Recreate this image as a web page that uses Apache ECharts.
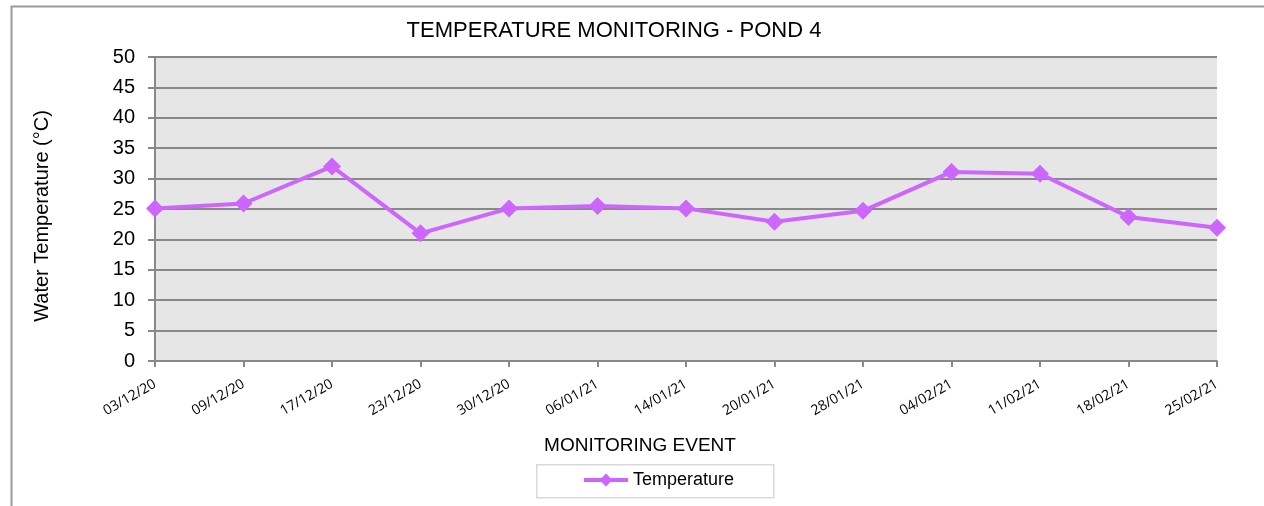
<!DOCTYPE html>
<html>
<head>
<meta charset="utf-8">
<script src="https://cdn.jsdelivr.net/npm/echarts@6/dist/echarts.min.js"></script>
<style>
html,body{margin:0;padding:0;background:#fff;}
#chart{width:1264px;height:506px;}
</style>
</head>
<body>
<div id="chart"></div>
<script>
const categories = ['03/12/20','09/12/20','17/12/20','23/12/20','30/12/20','06/01/21','14/01/21','20/01/21','28/01/21','04/02/21','11/02/21','18/02/21','25/02/21'];
const temperature = [25.1, 25.9, 32.0, 21.0, 25.1, 25.5, 25.1, 22.9, 24.7, 31.1, 30.8, 23.7, 21.9];
const seriesName = 'Temperature';

const sans = '"Liberation Sans", Arial, sans-serif';
const chart = echarts.init(document.getElementById('chart'), null, {renderer: 'canvas'});
chart.setOption({
  animation: false,
  backgroundColor: '#ffffff',
  graphic: [
    {type: 'rect', left: 9, top: 4, shape: {x: 0, y: 0, width: 1400, height: 700}, style: {fill: 'none', stroke: '#999999', lineWidth: 2}, z: -10},
    {type: 'rect', left: 536, top: 464, shape: {x: 0, y: 0, width: 237, height: 33}, style: {fill: '#ffffff', stroke: '#d9d9d9', lineWidth: 1.5}, z: -5}
  ],
  title: {
    text: 'TEMPERATURE MONITORING - POND 4',
    left: 609, top: 15, textAlign: 'center',
    textStyle: {fontFamily: sans, fontSize: 22, fontWeight: 'normal', color: '#000'}
  },
  legend: {
    left: 582, top: 471, padding: 0,
    itemWidth: 44, itemHeight: 16, itemGap: 4,
    textStyle: {fontFamily: sans, fontSize: 18, color: '#000'},
    lineStyle: {width: 4},
    data: [seriesName]
  },
  grid: {
    left: 155, right: 47, top: 57, bottom: 145,
    show: true, backgroundColor: '#e6e6e6', borderWidth: 0
  },
  xAxis: {
    type: 'category', data: categories, boundaryGap: false,
    name: 'MONITORING EVENT', nameLocation: 'middle', nameGap: 75,
    nameTextStyle: {fontFamily: sans, fontSize: 19, color: '#000', padding: [0, 92, 0, 0]},
    axisLine: {lineStyle: {color: '#888888', width: 2}},
    axisTick: {show: true, length: 6, lineStyle: {color: '#888888', width: 2}},
    axisLabel: {rotate: 30, fontFamily: '"Open Sans", sans-serif', fontSize: 14, color: '#000', margin: 22},
    splitLine: {show: false}
  },
  yAxis: {
    type: 'value', min: 0, max: 50, interval: 5,
    name: 'Water Temperature (°C)', nameLocation: 'middle', nameGap: 103, nameRotate: 90,
    nameTextStyle: {fontFamily: sans, fontSize: 20, color: '#000', padding: [0, 14, 0, 0]},
    axisLine: {show: true, lineStyle: {color: '#888888', width: 2}},
    axisTick: {show: true, length: 7, lineStyle: {color: '#888888', width: 2}},
    axisLabel: {fontFamily: sans, fontSize: 20, color: '#000', margin: 20},
    splitLine: {show: true, lineStyle: {color: '#888888', width: 2}}
  },
  series: [{
    name: seriesName, type: 'line', data: temperature,
    symbol: 'diamond', symbolSize: 18,
    lineStyle: {color: '#cc66ff', width: 4},
    itemStyle: {color: '#cc66ff'}
  }]
});
</script>
</body>
</html>
